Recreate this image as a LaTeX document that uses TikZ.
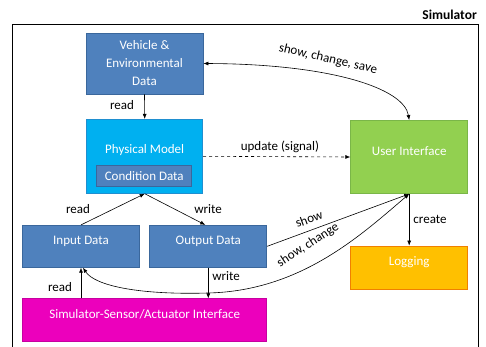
\documentclass[tikz,border=0pt]{standalone}
\usepackage{fontspec}
\setmainfont{Carlito}
\usetikzlibrary{arrows.meta}

\definecolor{boxblue}{HTML}{4F81BD}
\definecolor{boxblueedge}{HTML}{3A679C}
\definecolor{physblue}{HTML}{00B0F0}
\definecolor{physedge}{HTML}{1F8FD0}
\definecolor{uigreen}{HTML}{92D050}
\definecolor{uiedge}{HTML}{7AB648}
\definecolor{logorange}{HTML}{FFC000}
\definecolor{logedge}{HTML}{F08000}
\definecolor{simmagenta}{HTML}{EC00BC}
\definecolor{simedge}{HTML}{C800A0}

\tikzset{
  box/.style={draw, line width=0.8pt, text=white, align=center, inner sep=0pt,
    font=\fontsize{13}{18}\selectfont},
  bluebox/.style={box, fill=boxblue, draw=boxblueedge},
  % single-line captions sit a little above the box centre
  raised/.style={text height=9pt, text depth=13pt},
  lbl/.style={font=\fontsize{13}{15}\selectfont, inner sep=1pt},
  arr/.style={-{Latex[length=5pt,width=4pt]}, line width=0.6pt},
  darr/.style={{Latex[length=5pt,width=4pt]}-{Latex[length=5pt,width=4pt]}, line width=0.6pt},
}

\begin{document}
\begin{tikzpicture}[x=1pt,y=-1pt]
\useasboundingbox (0,0) rectangle (486,347);

% simulator frame, open at the bottom
\draw[line width=0.8pt] (12,347) |- (478,24) -- (478,347);
\node[anchor=east, font=\bfseries\fontsize{13.5}{15}\selectfont, inner sep=0pt] (simtitle) at (477,15) {Simulator};

% blocks
\node[bluebox, minimum width=117pt, minimum height=61pt] (veh) at (144.5,63.5) {Vehicle \&\\Environmental\\Data};
\node[box, fill=physblue, draw=physedge, minimum width=116pt, minimum height=74pt] (phys) at (144.7,156.3) {};
\node[text=white, font=\fontsize{13}{15}\selectfont, inner sep=0pt] (physname) at (144.7,150) {Physical Model};
\node[bluebox, minimum width=95pt, minimum height=21pt] (cond) at (144.2,176.2) {Condition Data};
\node[box, fill=uigreen, draw=uiedge, minimum width=117pt, minimum height=73pt] (ui) at (409.2,157) {};
\node[text=white, font=\fontsize{13}{15}\selectfont, inner sep=0pt] (uiname) at (409.2,151) {User Interface};
\node[bluebox, raised, minimum width=117pt, minimum height=42pt] (input) at (81,246.3) {Input Data};
\node[bluebox, raised, minimum width=117pt, minimum height=42pt] (output) at (208.3,246.3) {Output Data};
\node[box, raised, fill=logorange, draw=logedge, minimum width=117pt, minimum height=43pt] (log) at (409.2,267.5) {Logging};
\node[box, raised, fill=simmagenta, draw=simedge, minimum width=244pt, minimum height=43pt] (sim) at (144.7,320.3) {Simulator-Sensor/Actuator Interface};

% connectors
\draw[arr] (veh.south) -- (phys.north);
\node[lbl] (read1lbl) at (122,105) {read};
\draw[darr] (veh.east) .. controls (330,64) and (404,88) .. (ui.north);
\node[lbl, rotate=-13] (scslbl) at (328,59) {show, change, save};
\draw[arr, dashed] (phys.east) -- (ui.west);
\node[lbl] (updlbl) at (280,147) {update (signal)};
\draw[arr] (input.north) -- (phys.south);
\node[lbl] (readlbl) at (78,209) {read};
\draw[arr] (phys.south) -- ([xshift=-3pt]output.north);
\node[lbl] (writelbl) at (208,209) {write};
\draw[arr] (output.east) -- (ui.south);
\node[lbl, rotate=20] (showlbl) at (309,219) {show};
\coordinate (dip) at (208,293);
\draw[darr] (ui.south) .. controls (360,236) and (300,291) .. (dip)
  .. controls (140,295) and (95,286) .. ([xshift=2pt]input.south);
\node[lbl, rotate=33] (sclbl) at (308,245) {show, change};
\draw[arr] (output.south) -- (sim.north -| output.south);
\node[lbl] (write2lbl) at (226,276) {write};
\draw[arr] (sim.north -| input.south) -- (input.south);
\node[lbl] (read2lbl) at (60,287) {read};
\draw[arr] (ui.south) -- (log.north);
\node[lbl] (createlbl) at (430,219) {create};
\end{tikzpicture}
\end{document}
